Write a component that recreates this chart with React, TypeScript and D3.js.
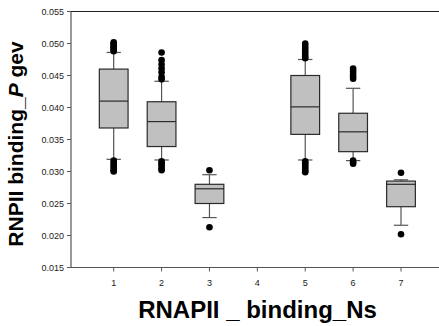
import React from "react";
import * as d3 from "d3";

const categories = [1, 2, 3, 5, 6, 7];
const xTicks = [1, 2, 3, 4, 5, 6, 7];
const yTicks = [0.015, 0.02, 0.025, 0.03, 0.035, 0.04, 0.045, 0.05, 0.055];

const q1 = [0.0368, 0.0339, 0.025, 0.0358, 0.0331, 0.0245];
const median = [0.041, 0.0378, 0.0273, 0.0401, 0.0362, 0.028];
const q3 = [0.046, 0.0409, 0.028, 0.045, 0.0391, 0.0285];
const whiskerLow = [0.0319, 0.0318, 0.0228, 0.0318, 0.0317, 0.0216];
const whiskerHigh = [0.0486, 0.0441, 0.0295, 0.0475, 0.043, 0.0287];

const outliers1 = [0.0488, 0.049, 0.0492, 0.0494, 0.0496, 0.0498, 0.05, 0.0502, 0.0317, 0.0314, 0.0311, 0.0308, 0.0305, 0.0302, 0.03];
const outliers2 = [0.0486, 0.0474, 0.0467, 0.0461, 0.0455, 0.0448, 0.0444, 0.0316, 0.0313, 0.031, 0.0307, 0.0304, 0.0302];
const outliers3 = [0.0302, 0.0213];
const outliers5 = [0.05, 0.0496, 0.0492, 0.0488, 0.0484, 0.048, 0.0477, 0.0316, 0.0313, 0.031, 0.0307, 0.0304, 0.0301, 0.0299];
const outliers6 = [0.0461, 0.0457, 0.0453, 0.0449, 0.0445, 0.0317, 0.0314, 0.0312];
const outliers7 = [0.0298, 0.0202];
const outliers = [outliers1, outliers2, outliers3, outliers5, outliers6, outliers7];

const W = 439;
const H = 326;
const left = 71;
const right = 439;
const top = 11.5;
const bottom = 267.5;

export default function App() {
  const x = d3.scaleLinear().domain([1, 7]).range([113.7, 401]);
  const y = d3.scaleLinear().domain([0.015, 0.055]).range([bottom, top]);
  const bw = (x(2) - x(1)) * 0.6;
  const cw = bw * 0.5;
  const font = "'Liberation Sans', Arial, sans-serif";
  const wColor = "#555";
  const bColor = "#2a2a2a";

  return (
    <svg width={W} height={H} style={{ position: "absolute", left: 0, top: 0 }} fontFamily={font}>
      <rect width={W} height={H} fill="#fff" />
      <line x1={left} x2={right} y1={top} y2={top} stroke="#222" strokeWidth={1} />
      <line x1={left} x2={left} y1={top} y2={bottom} stroke="#555" strokeWidth={1.2} />
      <line x1={left} x2={right} y1={bottom} y2={bottom} stroke="#555" strokeWidth={1.2} />
      {yTicks.map((t) => (
        <g key={t}>
          <line x1={left - 4} x2={left} y1={y(t)} y2={y(t)} stroke="#555" />
          <text x={left - 7} y={y(t) + 3.2} fontSize={9} textAnchor="end" fill="#222">
            {d3.format(".3f")(t)}
          </text>
        </g>
      ))}
      {xTicks.map((t) => (
        <g key={t}>
          <line x1={x(t)} x2={x(t)} y1={bottom} y2={bottom + 4} stroke="#555" />
          <text x={x(t)} y={286} fontSize={9} textAnchor="middle" fill="#222">
            {t}
          </text>
        </g>
      ))}
      {categories.map((c, i) => {
        const cx = x(c);
        return (
          <g key={c}>
            <line x1={cx} x2={cx} y1={y(q3[i])} y2={y(whiskerHigh[i])} stroke={wColor} strokeWidth={1.2} />
            <line x1={cx} x2={cx} y1={y(q1[i])} y2={y(whiskerLow[i])} stroke={wColor} strokeWidth={1.2} />
            <line x1={cx - cw / 2} x2={cx + cw / 2} y1={y(whiskerHigh[i])} y2={y(whiskerHigh[i])} stroke={wColor} strokeWidth={1.2} />
            <line x1={cx - cw / 2} x2={cx + cw / 2} y1={y(whiskerLow[i])} y2={y(whiskerLow[i])} stroke={wColor} strokeWidth={1.2} />
            <rect x={cx - bw / 2} y={y(q3[i])} width={bw} height={y(q1[i]) - y(q3[i])} fill="#c0c0c0" stroke={bColor} strokeWidth={1.2} />
            <line x1={cx - bw / 2} x2={cx + bw / 2} y1={y(median[i])} y2={y(median[i])} stroke={bColor} strokeWidth={1.2} />
            {outliers[i].map((v, j) => (
              <circle key={j} cx={cx} cy={y(v)} r={3.3} fill="#000" />
            ))}
          </g>
        );
      })}
      <text
        transform={`translate(22.5, 144) rotate(-90)`}
        textAnchor="middle"
        fontSize={21}
        fontWeight="bold"
        fill="#000"
      >
        RNPII binding_<tspan fontStyle="italic">P</tspan> gev
      </text>
      <text x={257.5} y={318} textAnchor="middle" fontSize={24} fontWeight="bold" fill="#000">
        RNAPII _ binding_Ns
      </text>
    </svg>
  );
}
